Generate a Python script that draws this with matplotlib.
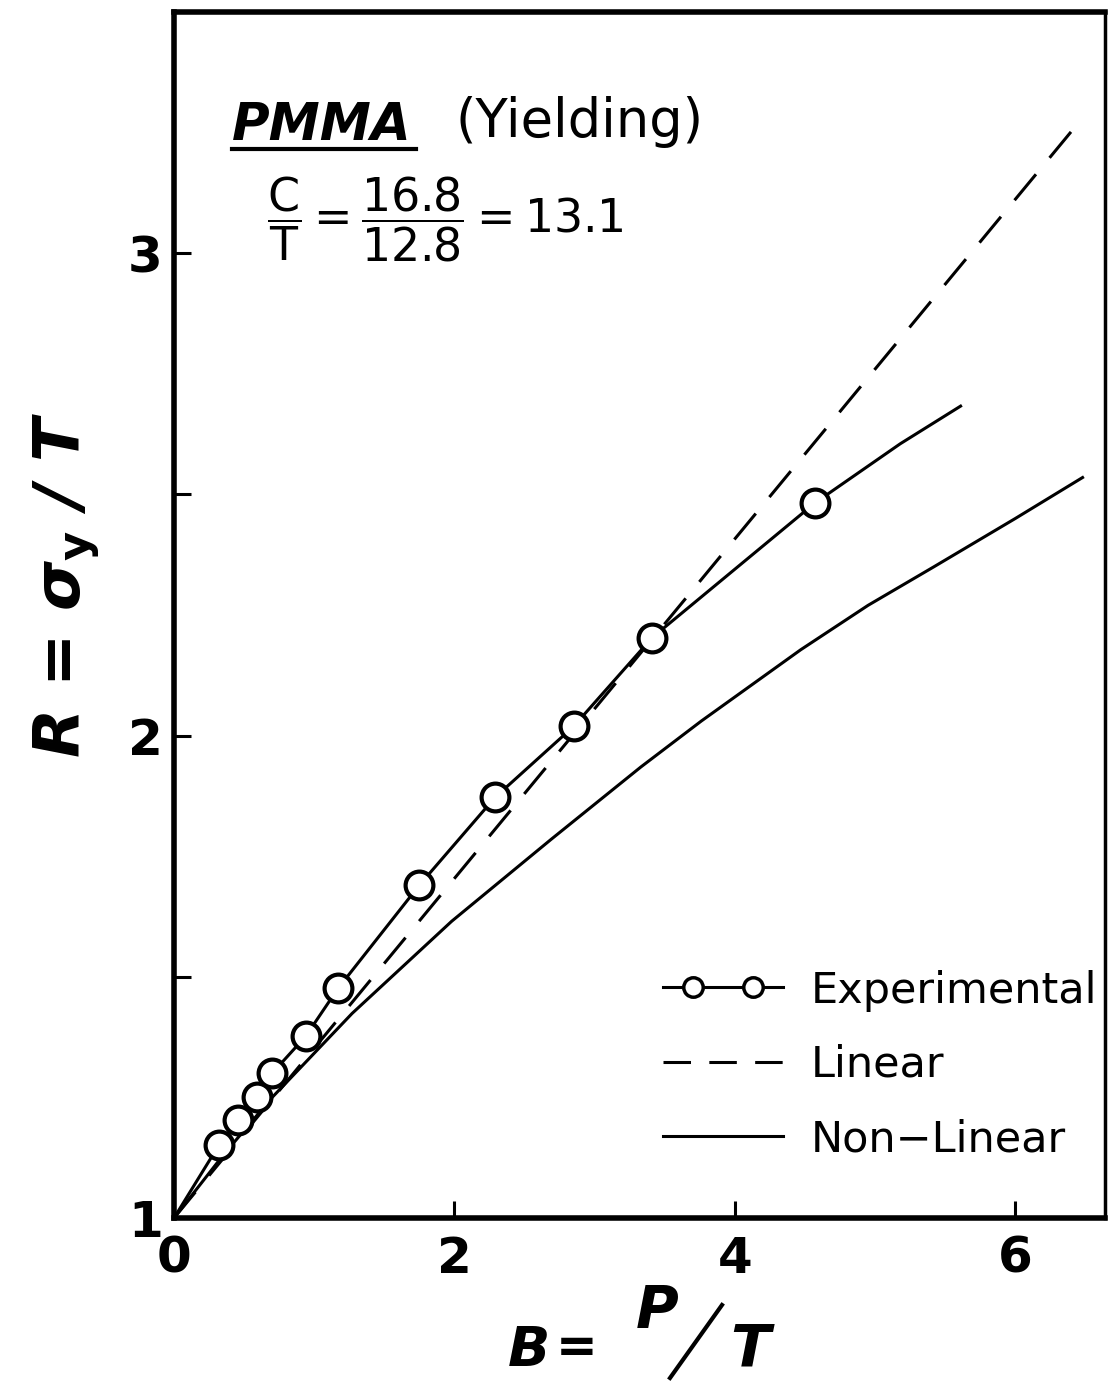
import matplotlib
matplotlib.use('Agg')
import matplotlib.pyplot as plt
from matplotlib.lines import Line2D
from matplotlib.legend_handler import HandlerLine2D, HandlerTuple

# experimental yield points
exp_B = [0.32, 0.46, 0.59, 0.70, 0.94, 1.17, 1.75, 2.29, 2.85, 3.41, 4.57]
exp_R = [1.151, 1.203, 1.25, 1.30, 1.377, 1.476, 1.69, 1.872, 2.019, 2.203, 2.482]
# curve drawn through them (from origin, past the last point)
exp_curve_B = [0.0] + exp_B + [5.18, 5.61]
exp_curve_R = [1.0] + exp_R + [2.605, 2.683]

# linear theory
lin_B = [0.0, 6.45]
lin_R = [1.0, 3.27]

# non-linear theory
nl_B = [0.0, 0.35, 0.7, 1.27, 1.98, 2.69, 3.33, 3.76, 4.47, 4.95, 5.42, 6.0, 6.48]
nl_R = [1.0, 1.13, 1.25, 1.424, 1.615, 1.785, 1.935, 2.03, 2.178, 2.27, 2.35, 2.45, 2.535]

x_ticks = [0, 2, 4, 6]
y_ticks = [1, 2, 3]
y_minor = [1.5, 2.5]
labels = ['Experimental', 'Linear', 'Non\u2212Linear']

plt.rcParams['font.family'] = ['DejaVu Sans']
plt.rcParams['mathtext.fontset'] = 'dejavusans'

fig = plt.figure(figsize=(11.08, 13.82), dpi=100)
ax = fig.add_axes([174 / 1108, 1 - 1218 / 1382, 931 / 1108, 1206 / 1382])

ax.plot(lin_B, lin_R, color='black', lw=2.2, linestyle=(0, (11, 7)), zorder=2)
ax.plot(nl_B, nl_R, color='black', lw=2.2, zorder=2)
ax.plot(exp_curve_B, exp_curve_R, color='black', lw=2.2, zorder=3)
ax.plot(exp_B, exp_R, linestyle='none', marker='o', ms=20, mew=3,
        mfc='white', mec='black', zorder=4)

ax.set_xlim(0, 6.64)
ax.set_ylim(1, 3.5)
ax.set_xticks(x_ticks)
ax.set_yticks(y_ticks)
ax.set_yticks(y_minor, minor=True)
ax.tick_params(which='both', direction='in', length=12, width=2.2)
ax.tick_params(axis='x', pad=12, labelsize=36)
ax.tick_params(axis='y', pad=8, labelsize=36)
for lab in ax.get_xticklabels() + ax.get_yticklabels():
    lab.set_fontweight('bold')
for side in ['left', 'bottom', 'top']:
    ax.spines[side].set_linewidth(4)
ax.spines['right'].set_linewidth(2.5)

# legend: "-o-o-" handle = line + inset markers
h_line = Line2D([], [], color='black', lw=2.2)
h_mk = Line2D([], [], color='black', linestyle='none', marker='o', ms=14,
              mew=2.5, mfc='white')
handles = [
    (h_line, h_mk),
    Line2D([], [], color='black', lw=2.2, linestyle=(0, (9, 6))),
    Line2D([], [], color='black', lw=2.2),
]
ax.legend(handles, labels, loc='lower right', bbox_to_anchor=(0.992, 0.048),
          frameon=False, fontsize=31, numpoints=2, handlelength=3.4,
          handletextpad=0.35, labelspacing=0.75, borderpad=0, borderaxespad=0,
          handler_map={h_mk: HandlerLine2D(marker_pad=1.0),
                       tuple: HandlerTuple(ndivide=1)})

# title block
ax.text(0.062, 0.894, 'PMMA', transform=ax.transAxes, fontsize=37,
        fontweight='bold', fontstyle='italic', ha='left', va='baseline')
ax.plot([0.062, 0.260], [0.886, 0.886], transform=ax.transAxes, color='black',
        lw=3, clip_on=False)
ax.text(0.302, 0.896, '(Yielding)', transform=ax.transAxes, fontsize=38,
        ha='left', va='baseline')
ax.text(0.100, 0.828, r'$\dfrac{\mathrm{C}}{\mathrm{T}} = \dfrac{16.8}{12.8} = 13.1$',
        transform=ax.transAxes, fontsize=33, ha='left', va='center')

# axis labels
fig.text(0.060, 0.577, r'R = σ$_{\mathbf{y}}$ / T', rotation=90, fontsize=46,
         fontweight='bold', fontstyle='italic', ha='center', va='center')
fig.text(508 / 1108, 1 - 1366 / 1382, 'B', fontsize=40, fontweight='bold',
         fontstyle='italic', ha='left', va='baseline')
fig.text(556 / 1108, 1 - 1362 / 1382, '=', fontsize=36, fontweight='bold',
         ha='left', va='baseline')
fig.text(636 / 1108, 1 - 1328 / 1382, 'P', fontsize=42, fontweight='bold',
         fontstyle='italic', ha='left', va='baseline')
fig.add_artist(Line2D([670 / 1108, 722 / 1108], [1 - 1378 / 1382, 1 - 1305 / 1382],
                      color='black', lw=3))
fig.text(730 / 1108, 1 - 1366 / 1382, 'T', fontsize=42, fontweight='bold',
         fontstyle='italic', ha='left', va='baseline')

fig.savefig('out.png', dpi=100)
